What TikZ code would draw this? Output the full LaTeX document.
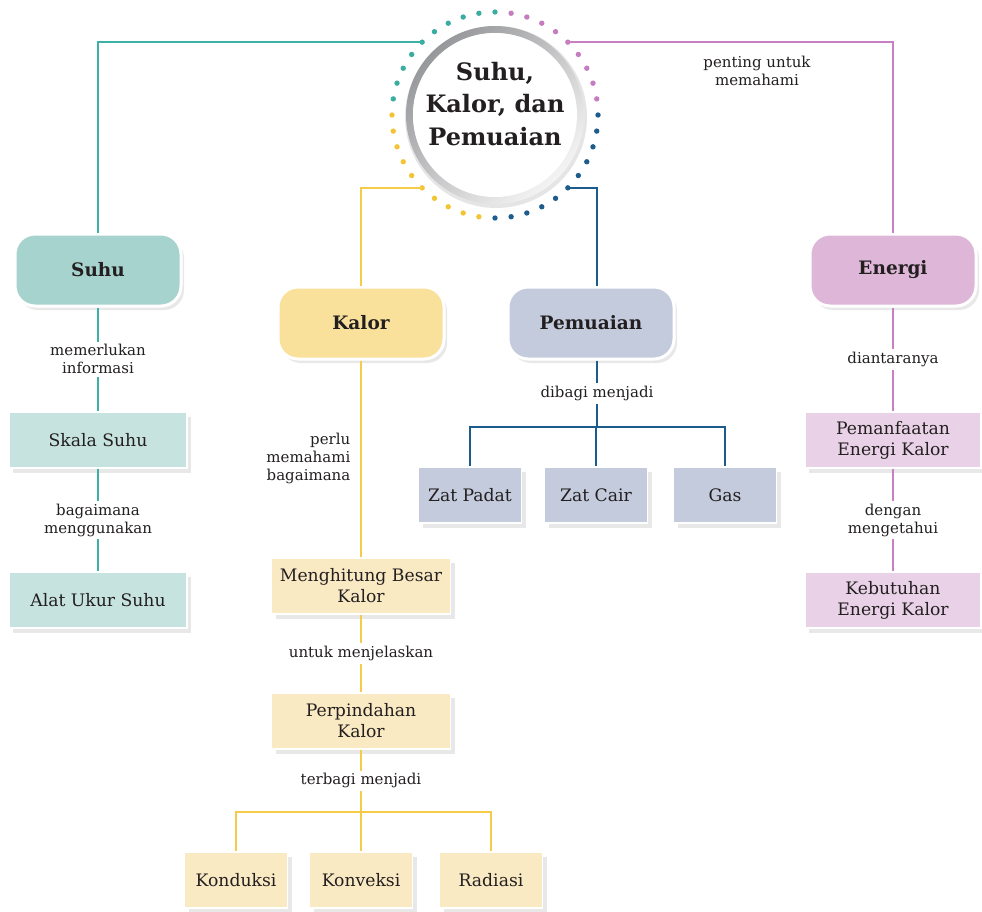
\documentclass[tikz,border=0pt]{standalone}
\usepackage{fontspec}
\setmainfont{DejaVu Serif}
\usetikzlibrary{positioning,shadows}
\definecolor{textgray}{HTML}{231F20}
\definecolor{lineteal}{HTML}{3EB1A6}
\definecolor{linepink}{HTML}{C980C3}
\definecolor{lineyellow}{HTML}{F6CB4A}
\definecolor{lineblue}{HTML}{1B5C8C}
\definecolor{suhufill}{HTML}{A7D3CF}
\definecolor{suhuitem}{HTML}{C6E3DF}
\definecolor{kalorfill}{HTML}{F9E19C}
\definecolor{kaloritem}{HTML}{FAEAC3}
\definecolor{muaifill}{HTML}{C3CBDD}
\definecolor{muaiitem}{HTML}{C3CBDD}
\definecolor{energifill}{HTML}{DEB6D8}
\definecolor{energiitem}{HTML}{E9D2E7}
\definecolor{dotteal}{HTML}{3AACA0}
\definecolor{dotpink}{HTML}{C47DBE}
\definecolor{dotyellow}{HTML}{F3C535}
\definecolor{dotblue}{HTML}{1D5C8B}
\definecolor{ringdark}{HTML}{97989B}
\definecolor{ringlight}{HTML}{F4F4F4}
\begin{document}
\begin{tikzpicture}
[x=1pt,y=-1pt,
  topicbox/.style={shape=rectangle,rounded corners=20pt,draw=white,line width=3pt,
    minimum width=166pt,minimum height=72pt,text=textgray,
    font=\fontsize{18.5}{22}\selectfont\bfseries,
    drop shadow={shadow xshift=3pt,shadow yshift=-4pt,fill=black!18}},
  itembox/.style={shape=rectangle,draw=white,line width=1.5pt,minimum height=56pt,
    align=center,text=textgray,font=\fontsize{17.2}{21}\selectfont,
    drop shadow={shadow xshift=4pt,shadow yshift=-5pt,fill=black!18}},
  linklabel/.style={fill=white,align=center,text=textgray,inner sep=3pt,
    font=\fontsize{15}{18}\selectfont},
  linkline/.style={line width=1.3pt}]
\useasboundingbox (0,0) rectangle (982,912);
%% title circle
\node (title) at (495,115) [shape=circle,minimum size=206pt,inner sep=0pt] {};
\foreach \first/\last/\dotcolor in {9/81/dotpink, 90/171/dotteal,
  180/261/dotyellow, 270/360/dotblue}
{
  \pgfmathtruncatemacro{\second}{\first+9}
  \foreach \a in {\first,\second,...,\last}
    \fill[\dotcolor] (title.center) ++(\a:103pt) circle (2.7pt);
}
\fill[black!10] ([xshift=1pt,yshift=-2pt]title.center) circle (91pt);
\shade[even odd rule,top color=ringdark,bottom color=ringlight,shading angle=45]
  (title.center) circle (89pt) circle (82pt);
\fill[white] (title.center) circle (82pt);
\node (titletext) at (495,104) [align=center,text=textgray,
  font=\fontsize{24}{32.5}\selectfont\bfseries] {Suhu,\\Kalor, dan\\Pemuaian};
%% topic boxes
\foreach \nodename/\x/\y/\boxcolor/\nodetext in {suhu/98/270/suhufill/Suhu,
  kalor/361/323/kalorfill/Kalor, pemuaian/591/323/muaifill/Pemuaian,
  energi/893/270/energifill/Energi}
{
  \node (\nodename) at (\x,\y) [topicbox,fill=\boxcolor] {\nodetext};
}
%% item boxes
\foreach \nodename/\x/\y/\w/\boxcolor/\nodetext in {
  skala/98/440/178/suhuitem/Skala Suhu,
  alatukur/98/600/178/suhuitem/Alat Ukur Suhu,
  menghitung/361/586/179/kaloritem/Menghitung Besar\\Kalor,
  perpindahan/361/721/179/kaloritem/Perpindahan\\Kalor,
  konduksi/236/880/103/kaloritem/Konduksi,
  konveksi/361/880/103/kaloritem/Konveksi,
  radiasi/491/880/103/kaloritem/Radiasi,
  zatpadat/470/495/103/muaiitem/Zat Padat,
  zatcair/596/495/103/muaiitem/Zat Cair,
  gas/725/495/103/muaiitem/Gas,
  pemanfaatan/893/440/176/energiitem/Pemanfaatan\\Energi Kalor,
  kebutuhan/893/600/176/energiitem/Kebutuhan\\Energi Kalor}
{
  \node (\nodename) at (\x,\y) [itembox,fill=\boxcolor,minimum width=\w pt] {\nodetext};
}
\coordinate (pemuaianfork) at (597,427);
\coordinate (kalorfork) at (361,812);
\node (pentinglabel) at (757,71) [linklabel] {penting untuk\\memahami};
%% connectors from the title
\draw[linkline,lineteal] (title.135) -| (suhu);
\draw[linkline,linepink] (title.45) -| (energi);
\draw[linkline,lineyellow] (title.225) -| (kalor);
\draw[linkline,lineblue] (title.315) -| ([xshift=6pt]pemuaian.north);
%% connectors below the topics
\draw[linkline,lineteal] (suhu) -- node[linklabel] {memerlukan\\informasi} (skala);
\draw[linkline,lineteal] (skala) -- node[linklabel] {bagaimana\\menggunakan} (alatukur);
\draw[linkline,linepink] (energi) -- node[linklabel] {diantaranya} (pemanfaatan);
\draw[linkline,linepink] (pemanfaatan) -- node[linklabel] {dengan\\mengetahui} (kebutuhan);
\draw[linkline,lineyellow] (kalor) -- node[linklabel,left=7pt,align=right,fill=none]
  {perlu\\memahami\\bagaimana} (menghitung);
\draw[linkline,lineyellow] (menghitung) -- node[linklabel] {untuk menjelaskan} (perpindahan);
\draw[linkline,lineyellow] (perpindahan) -- node[linklabel] {terbagi menjadi} (kalorfork);
\draw[linkline,lineblue] ([xshift=6pt]pemuaian.south) -- node[linklabel] {dibagi menjadi}
  (pemuaianfork);
\foreach \endnode in {konduksi, konveksi, radiasi}
  \draw[linkline,lineyellow] (kalorfork) -| (\endnode.north);
\foreach \endnode in {zatpadat, zatcair, gas}
  \draw[linkline,lineblue] (pemuaianfork) -| (\endnode.north);
\end{tikzpicture}
\end{document}
